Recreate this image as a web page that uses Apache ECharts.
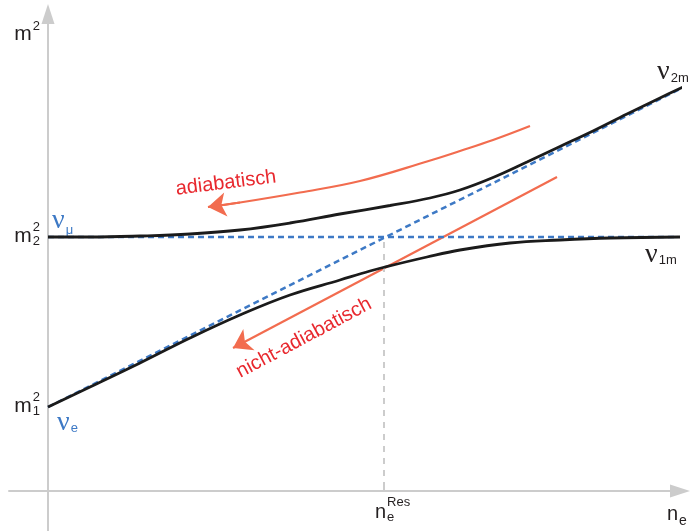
<!DOCTYPE html>
<html>
<head>
<meta charset="utf-8">
<title>MSW</title>
<script src="https://cdn.jsdelivr.net/npm/echarts@6/dist/echarts.min.js"></script>
<style>
html, body { margin: 0; padding: 0; background: #fff; }
#chart { width: 691px; height: 531px; }
</style>
</head>
<body>
<div id="chart"></div>
<script>
// vacuum states (dashed) and matter eigenstates (solid), arbitrary units
const levelX = [0, 630];
const levelY = [254, 254];
const diagX = [0, 632];
const diagY = [84, 402];

const upperX = [0, 42, 92, 142, 192, 242, 292, 342, 382, 412, 445, 479, 512, 545, 579, 612, 637];
const upperY = [254, 254, 255, 257, 261, 268, 277, 285.5, 293, 301, 313.5, 329, 344.5, 360, 377, 393, 405];

const lowerX = [0, 42, 92, 142, 192, 242, 292, 322, 337, 379, 412, 462, 512, 562, 632];
const lowerY = [84, 104, 128, 153, 176, 196, 211, 220, 224, 234, 241, 248, 251, 253, 254];

// transitions
const adiaX = [482, 445, 412, 379, 312, 252, 192, 160];
const adiaY = [365, 351, 340, 329.5, 310, 298.5, 288.5, 284];
const nonAdiaX = [509, 185];
const nonAdiaY = [314, 143];

const resX = 336;
const resTop = 249;

const yTickValues = [84, 254];
const yTickSubs = ['1', '2'];
const xTickValues = [resX];

const SANS = '"Liberation Sans", Arial, sans-serif';
const SERIF = '"Liberation Serif", "Times New Roman", serif';
const BLUE = '#3d79c5';
const RED = '#e8282e';
const ORANGE = '#f26c4f';
const INK = '#231f20';

const pts = (xs, ys) => xs.map((x, i) => [x, ys[i]]);
const last2 = (xs, ys) => pts(xs, ys).slice(-2);

const chart = echarts.init(document.getElementById('chart'));

const axisLine = { onZero: true, symbol: ['none', 'triangle'], symbolSize: [13, 20],
  lineStyle: { color: '#cccccc', width: 2 } };

chart.setOption({
  animation: false,
  grid: { left: 9, right: 11, top: 14, bottom: 0 },
  xAxis: {
    type: 'value', min: -39, max: 632,
    axisLine: axisLine,
    axisTick: { show: true, customValues: xTickValues, inside: true, length: 5,
      lineStyle: { color: '#cccccc', width: 2 } },
    axisLabel: { show: false },
    splitLine: { show: false }
  },
  yAxis: {
    type: 'value', min: -40, max: 477,
    axisLine: axisLine,
    axisTick: { show: false },
    axisLabel: { show: false },
    splitLine: { show: false }
  },
  series: [
    { type: 'line', data: [[resX, resTop], [resX, 0]], symbol: 'none', clip: false,
      lineStyle: { color: '#cccccc', width: 2, type: [6, 6] } },
    { type: 'line', data: pts(levelX, levelY), symbol: 'none', clip: false,
      lineStyle: { color: BLUE, width: 2.5, type: [6, 4] } },
    { type: 'line', data: pts(diagX, diagY), symbol: 'none', clip: false,
      lineStyle: { color: BLUE, width: 2.5, type: [6, 4] } },
    { type: 'line', data: pts(upperX, upperY), symbol: 'none', smooth: 0.4, clip: false,
      lineStyle: { color: '#1b1b1b', width: 2.8 } },
    { type: 'line', data: pts(lowerX, lowerY), symbol: 'none', smooth: 0.4, clip: false,
      lineStyle: { color: '#1b1b1b', width: 2.8 } },
    { type: 'line', data: pts(adiaX, adiaY), symbol: 'none', smooth: 0.4, clip: false,
      lineStyle: { color: ORANGE, width: 2.2 } },
    { type: 'lines', coordinateSystem: 'cartesian2d', clip: false,
      symbol: ['none', 'arrow'], symbolSize: 18,
      lineStyle: { color: ORANGE, width: 2.2, opacity: 1, curveness: 0 },
      data: [{ coords: last2(adiaX, adiaY) }, { coords: pts(nonAdiaX, nonAdiaY) }] }
  ]
});

// text labels with stacked super/subscripts
const measure = document.createElement('canvas').getContext('2d');
function widthOf(text, font) { measure.font = font; return measure.measureText(text).width; }

function scriptWidth(p) {
  const bw = widthOf(p.base, p.size + 'px ' + p.family);
  const sf = p.small + 'px ' + (p.smallFamily || SANS);
  return bw + 1 + Math.max(p.sup ? widthOf(p.sup, sf) : 0, p.sub ? widthOf(p.sub, sf) : 0);
}

function scripted(x, y, p) {
  const bf = p.size + 'px ' + p.family;
  const sf = p.small + 'px ' + (p.smallFamily || SANS);
  const bw = widthOf(p.base, bf);
  const out = [{ type: 'text', x: x, y: y, silent: true,
    style: { text: p.base, font: bf, fill: p.color, verticalAlign: 'middle' } }];
  if (p.sup) out.push({ type: 'text', x: x + bw + 1, y: y + p.supDy, silent: true,
    style: { text: p.sup, font: sf, fill: p.color, verticalAlign: 'middle' } });
  if (p.sub) out.push({ type: 'text', x: x + bw + 1, y: y + p.subDy, silent: true,
    style: { text: p.sub, font: sf, fill: p.color, verticalAlign: 'middle' } });
  return out;
}

const px = (x, y) => chart.convertToPixel({ xAxisIndex: 0, yAxisIndex: 0 }, [x, y]);
const graphics = [];

// y axis labels m_i^2
yTickValues.forEach((v, i) => {
  const p = { base: 'm', size: 21, family: SANS, small: 13, sup: '2', sub: yTickSubs[i],
    supDy: -9, subDy: 5, color: INK };
  const a = px(0, v);
  graphics.push(...scripted(a[0] - 8 - scriptWidth(p), a[1] - 1, p));
});
// y axis name
{
  const p = { base: 'm', size: 21, family: SANS, small: 13, sup: '2', supDy: -8, color: INK };
  const a = px(0, 457);
  graphics.push(...scripted(a[0] - 8 - scriptWidth(p), a[1], p));
}
// x tick label n_e^Res
xTickValues.forEach(v => {
  const a = px(v, 0);
  graphics.push(...scripted(a[0] - 9, a[1] + 21, { base: 'n', size: 20, family: SANS, small: 13,
    sup: 'Res', sub: 'e', supDy: -9.5, subDy: 5, color: INK }));
});
// x axis name n_e
{
  const a = px(632, 0);
  graphics.push(...scripted(a[0] - 13, a[1] + 23.5, { base: 'n', size: 20, family: SANS, small: 14,
    sub: 'e', subDy: 6.5, color: INK }));
}
// state labels
const nuLabel = (anchor, dx, dy, sub, subDy, color) => {
  const a = px(anchor[0], anchor[1]);
  graphics.push(...scripted(a[0] + dx, a[1] + dy, { base: '\u03bd', size: 28, family: SERIF, small: 13,
    sub: sub, subDy: subDy, color: color }));
};
nuLabel([upperX[upperX.length - 1], upperY[upperY.length - 1]], -28, -14, '2m', 6, INK);
nuLabel([lowerX[lowerX.length - 1], lowerY[lowerY.length - 1]], -35, 17.5, '1m', 6, INK);
nuLabel([levelX[0], levelY[0]], 4, -16, '\u03bc', 9, BLUE);
nuLabel([diagX[0], diagY[0]], 9, 16, 'e', 5, BLUE);

// transition names
const tag = (text, at, deg) => {
  const a = px(at[0], at[1]);
  graphics.push({ type: 'text', x: a[0], y: a[1], rotation: deg * Math.PI / 180, silent: true,
    style: { text: text, font: '20px ' + SANS, fill: RED, align: 'center', verticalAlign: 'middle' } });
};
tag('adiabatisch', [178, 308], 7);
tag('nicht-adiabatisch', [256, 153], 28);

chart.setOption({ graphic: graphics });
</script>
</body>
</html>
